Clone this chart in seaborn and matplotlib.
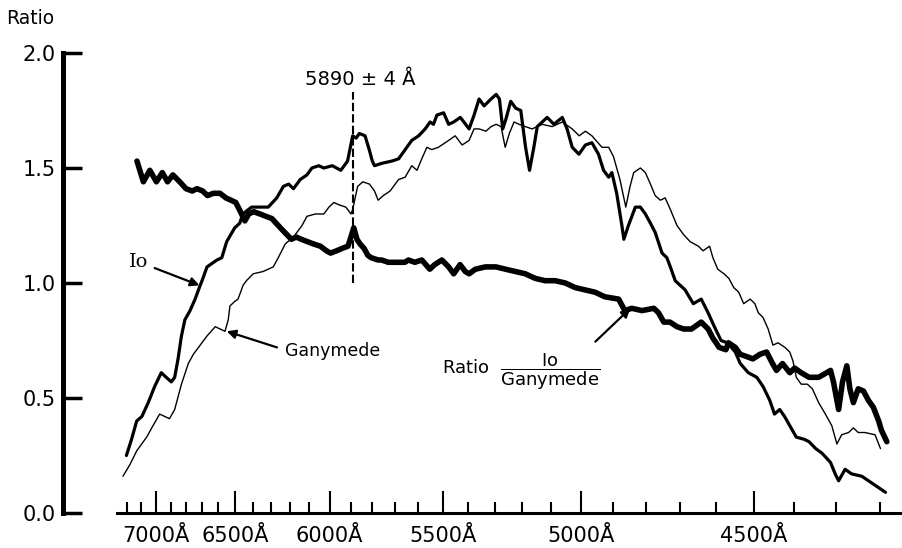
import numpy as np
import matplotlib
matplotlib.use("Agg")
import matplotlib.pyplot as plt
import seaborn as sns
from matplotlib.ticker import FixedLocator, FixedFormatter

# ------------------------------------------------------------
# style
# ------------------------------------------------------------
sns.set_theme(style="ticks", rc={"axes.edgecolor": "black", "xtick.color": "black",
                                 "ytick.color": "black", "text.color": "black",
                                 "axes.labelcolor": "black"})
plt.rcParams["font.family"] = ["DejaVu Sans"]
plt.rcParams["mathtext.fontset"] = "dejavusans"

# ------------------------------------------------------------
# data (wavelength in Angstrom, ratio values)
# ------------------------------------------------------------
ratio_wl = [7130, 7085, 7040, 6995, 6955, 6920, 6885, 6840, 6800, 6760,
            6730, 6695, 6665, 6630, 6590, 6555, 6525, 6497, 6470, 6445,
            6423, 6395, 6360, 6328, 6295, 6250, 6215, 6192, 6167, 6141,
            6110, 6080, 6045, 6015, 5995, 5966, 5941, 5912, 5898, 5885,
            5870, 5856, 5837, 5820, 5805, 5774, 5759, 5729, 5714, 5684,
            5657, 5642, 5615, 5586, 5553, 5533, 5504, 5477, 5457, 5432,
            5412, 5397, 5373, 5335, 5296, 5261, 5225, 5190, 5155, 5121,
            5087, 5053, 5020, 4988, 4956, 4925, 4882, 4863, 4842, 4811,
            4776, 4762, 4747, 4729, 4709, 4690, 4668, 4641, 4622, 4609,
            4592, 4574, 4567, 4549, 4536, 4519, 4503, 4485, 4468, 4453,
            4443, 4428, 4410, 4398, 4382, 4363, 4340, 4321, 4312, 4305,
            4293, 4284, 4274, 4267, 4259, 4248, 4236, 4225, 4214, 4202,
            4196, 4184]
ratio_val = [1.53, 1.44, 1.49, 1.44, 1.48, 1.44, 1.47, 1.44, 1.41, 1.40,
             1.41, 1.40, 1.38, 1.39, 1.39, 1.37, 1.36, 1.35, 1.31, 1.27,
             1.30, 1.31, 1.30, 1.29, 1.28, 1.24, 1.21, 1.19, 1.20, 1.19,
             1.18, 1.17, 1.16, 1.14, 1.13, 1.14, 1.15, 1.16, 1.20, 1.24,
             1.19, 1.17, 1.15, 1.12, 1.11, 1.10, 1.10, 1.09, 1.09, 1.09,
             1.09, 1.10, 1.09, 1.10, 1.06, 1.08, 1.10, 1.07, 1.04, 1.08,
             1.05, 1.04, 1.06, 1.07, 1.07, 1.06, 1.05, 1.04, 1.02, 1.01,
             1.01, 1.00, 0.98, 0.97, 0.96, 0.94, 0.93, 0.88, 0.89, 0.88,
             0.89, 0.87, 0.83, 0.83, 0.81, 0.80, 0.80, 0.83, 0.80, 0.76,
             0.72, 0.71, 0.74, 0.72, 0.69, 0.68, 0.67, 0.69, 0.70, 0.65,
             0.62, 0.65, 0.61, 0.63, 0.61, 0.59, 0.59, 0.61, 0.62, 0.57,
             0.45, 0.57, 0.64, 0.54, 0.48, 0.54, 0.53, 0.49, 0.46, 0.40,
             0.36, 0.31]

io_wl = [7206, 7169, 7132, 7095, 7051, 7007, 6962, 6929, 6895, 6873,
         6851, 6829, 6807, 6774, 6742, 6721, 6699, 6668, 6608, 6579,
         6550, 6503, 6474, 6457, 6407, 6361, 6315, 6269, 6234, 6206,
         6181, 6146, 6112, 6087, 6053, 6028, 5987, 5946, 5914, 5890,
         5874, 5859, 5833, 5814, 5800, 5790, 5759, 5714, 5684, 5656,
         5628, 5599, 5572, 5552, 5538, 5524, 5497, 5477, 5457, 5431,
         5397, 5378, 5359, 5340, 5314, 5295, 5283, 5271, 5260, 5242,
         5224, 5206, 5189, 5175, 5160, 5148, 5131, 5114, 5091, 5063,
         5047, 5030, 5008, 4987, 4966, 4945, 4929, 4913, 4903, 4888,
         4872, 4866, 4852, 4831, 4816, 4801, 4786, 4772, 4752, 4738,
         4728, 4714, 4686, 4663, 4641, 4622, 4605, 4587, 4570, 4549,
         4536, 4515, 4493, 4477, 4460, 4448, 4435, 4423, 4410, 4394,
         4374, 4363, 4347, 4332, 4312, 4301, 4293, 4278, 4263, 4240,
         4217, 4202, 4187]
io_val = [0.25, 0.32, 0.40, 0.42, 0.48, 0.55, 0.61, 0.59, 0.57, 0.59,
          0.67, 0.77, 0.84, 0.88, 0.93, 0.97, 1.01, 1.07, 1.10, 1.11,
          1.18, 1.24, 1.26, 1.30, 1.33, 1.33, 1.33, 1.37, 1.42, 1.43,
          1.41, 1.45, 1.47, 1.50, 1.51, 1.50, 1.51, 1.49, 1.53, 1.64,
          1.63, 1.65, 1.64, 1.58, 1.53, 1.51, 1.52, 1.53, 1.54, 1.58,
          1.62, 1.64, 1.67, 1.70, 1.69, 1.73, 1.74, 1.69, 1.70, 1.72,
          1.67, 1.73, 1.80, 1.77, 1.80, 1.82, 1.80, 1.67, 1.71, 1.79,
          1.76, 1.75, 1.59, 1.49, 1.59, 1.68, 1.70, 1.72, 1.69, 1.72,
          1.67, 1.59, 1.56, 1.60, 1.61, 1.56, 1.49, 1.46, 1.48, 1.39,
          1.25, 1.19, 1.25, 1.33, 1.33, 1.30, 1.26, 1.22, 1.13, 1.11,
          1.07, 1.01, 0.97, 0.91, 0.93, 0.87, 0.81, 0.75, 0.74, 0.70,
          0.65, 0.61, 0.59, 0.55, 0.49, 0.43, 0.45, 0.42, 0.38, 0.33,
          0.32, 0.31, 0.28, 0.26, 0.22, 0.17, 0.14, 0.19, 0.17, 0.16,
          0.13, 0.11, 0.09]

gan_wl = [7231, 7181, 7132, 7062, 7018, 6973, 6940, 6907, 6873, 6829,
          6785, 6753, 6710, 6668, 6618, 6589, 6560, 6541, 6531, 6503,
          6484, 6455, 6436, 6398, 6343, 6288, 6261, 6224, 6181, 6137,
          6112, 6070, 6028, 6003, 5979, 5955, 5922, 5898, 5890, 5867,
          5843, 5813, 5790, 5774, 5751, 5721, 5684, 5656, 5628, 5606,
          5586, 5565, 5545, 5518, 5477, 5451, 5424, 5397, 5378, 5359,
          5333, 5314, 5295, 5277, 5262, 5247, 5230, 5212, 5190, 5166,
          5131, 5097, 5063, 5030, 5007, 4987, 4966, 4934, 4913, 4898,
          4878, 4860, 4847, 4836, 4816, 4801, 4786, 4772, 4757, 4743,
          4728, 4709, 4690, 4672, 4649, 4636, 4618, 4609, 4596, 4579,
          4566, 4553, 4540, 4527, 4510, 4498, 4489, 4477, 4464, 4452,
          4439, 4422, 4410, 4402, 4394, 4382, 4367, 4355, 4340, 4324,
          4309, 4297, 4286, 4270, 4259, 4248, 4233, 4210, 4198]
gan_val = [0.16, 0.21, 0.27, 0.33, 0.38, 0.43, 0.42, 0.41, 0.45, 0.56,
           0.65, 0.69, 0.73, 0.77, 0.81, 0.80, 0.79, 0.84, 0.90, 0.92,
           0.93, 0.99, 1.01, 1.04, 1.05, 1.07, 1.11, 1.17, 1.20, 1.25,
           1.29, 1.30, 1.30, 1.33, 1.35, 1.34, 1.33, 1.30, 1.32, 1.42,
           1.44, 1.43, 1.40, 1.36, 1.38, 1.40, 1.45, 1.46, 1.51, 1.49,
           1.54, 1.59, 1.58, 1.59, 1.62, 1.64, 1.60, 1.62, 1.67, 1.67,
           1.66, 1.68, 1.69, 1.68, 1.59, 1.65, 1.70, 1.69, 1.68, 1.67,
           1.69, 1.68, 1.70, 1.67, 1.64, 1.66, 1.64, 1.59, 1.59, 1.55,
           1.45, 1.33, 1.42, 1.48, 1.50, 1.48, 1.43, 1.38, 1.36, 1.37,
           1.32, 1.25, 1.21, 1.18, 1.16, 1.14, 1.16, 1.11, 1.06, 1.04,
           1.02, 0.98, 0.96, 0.91, 0.93, 0.91, 0.87, 0.85, 0.80, 0.73,
           0.74, 0.72, 0.70, 0.66, 0.59, 0.56, 0.56, 0.54, 0.48, 0.43,
           0.38, 0.30, 0.34, 0.35, 0.37, 0.35, 0.35, 0.34, 0.28]

major_wl = [7000, 6500, 6000, 5500, 5000, 4500]
minor_wl = [w for w in range(7200, 4199, -100) if w not in major_wl]
y_ticks = [0.0, 0.5, 1.0, 1.5, 2.0]
y_labels = ["0.0", "0.5", "1.0", "1.5", "2.0"]

na_wl = 5890              # sodium line marker
na_span = [1.00, 1.83]

# ------------------------------------------------------------
# wavelength axis: spectrograph scale, roughly linear in lambda^-1.2
# (increasing function, axis is inverted by the limits below)
# ------------------------------------------------------------
def fwd(x):
    x = np.clip(np.asarray(x, dtype=float), 1.0, None)
    return -np.power(x / 1000.0, -1.2)


def inv(y):
    y = np.clip(-np.asarray(y, dtype=float), 1e-9, None)
    return 1000.0 * np.power(y, -1 / 1.2)


fig = plt.figure(figsize=(9.02, 5.48), dpi=100)
ax = fig.add_axes([117 / 902, 35 / 548, 785 / 902, 460 / 548])
ax.set_xscale("function", functions=(fwd, inv))

line_kw = dict(color="black", estimator=None, sort=False,
               solid_joinstyle="round", solid_capstyle="round")
sns.lineplot(x=gan_wl, y=gan_val, ax=ax, linewidth=1.0, **line_kw)
sns.lineplot(x=io_wl, y=io_val, ax=ax, linewidth=2.3, **line_kw)
sns.lineplot(x=ratio_wl, y=ratio_val, ax=ax, linewidth=4.0, **line_kw)

ax.plot([na_wl, na_wl], na_span, color="black", lw=1.5, linestyle=(0, (4, 1.5)))

ax.set_xlim(7275, 4151)
ax.set_ylim(0, 2.0)
ax.set_xlabel("")
ax.set_ylabel("")

# axes / ticks
ax.xaxis.set_major_locator(FixedLocator(major_wl))
ax.xaxis.set_major_formatter(FixedFormatter([f"{w}Å" for w in major_wl]))
ax.xaxis.set_minor_locator(FixedLocator(minor_wl))
ax.tick_params(axis="x", which="major", direction="in", length=16, width=1.5,
               labelsize=15, pad=9)
ax.tick_params(axis="x", which="minor", direction="in", length=8, width=1.5)
ax.set_yticks(y_ticks)
ax.set_yticklabels(y_labels)
ax.tick_params(axis="y", direction="in", length=14, width=2.5, labelsize=15, pad=5)

ax.spines["top"].set_visible(False)
ax.spines["right"].set_visible(False)
ax.spines["left"].set_position(("outward", 38.9))
ax.spines["left"].set_linewidth(3.6)
ax.spines["bottom"].set_linewidth(2.2)

# labels
fig.text(6 / 902, 1 - 19 / 548, "Ratio", fontsize=13.5, ha="left", va="center")
ax.text(5856, 1.86, "5890 ± 4 Å", fontsize=14, ha="center", va="baseline")

arrow = dict(arrowstyle="-|>", color="black", lw=1.6, mutation_scale=13,
             shrinkA=0, shrinkB=0)
ax.text(7115, 1.09, "Io", fontsize=14, ha="center", va="center",
        family=["DejaVu Serif"])
ax.annotate("", xy=(6715, 0.99), xytext=(7007, 1.065), arrowprops=arrow)

ax.text(6224, 0.704, "Ganymede", fontsize=12.5, ha="left", va="center")
ax.annotate("", xy=(6550, 0.79), xytext=(6268, 0.72), arrowprops=arrow)

ax.text(5504, 0.613, r"Ratio  $\dfrac{\mathrm{Io}}{\mathrm{Ganymede}}$",
        fontsize=13, ha="left", va="center")
ax.annotate("", xy=(4846, 0.89), xytext=(4955, 0.745), arrowprops=arrow)

plt.savefig("out.png", dpi=100, facecolor="white")
